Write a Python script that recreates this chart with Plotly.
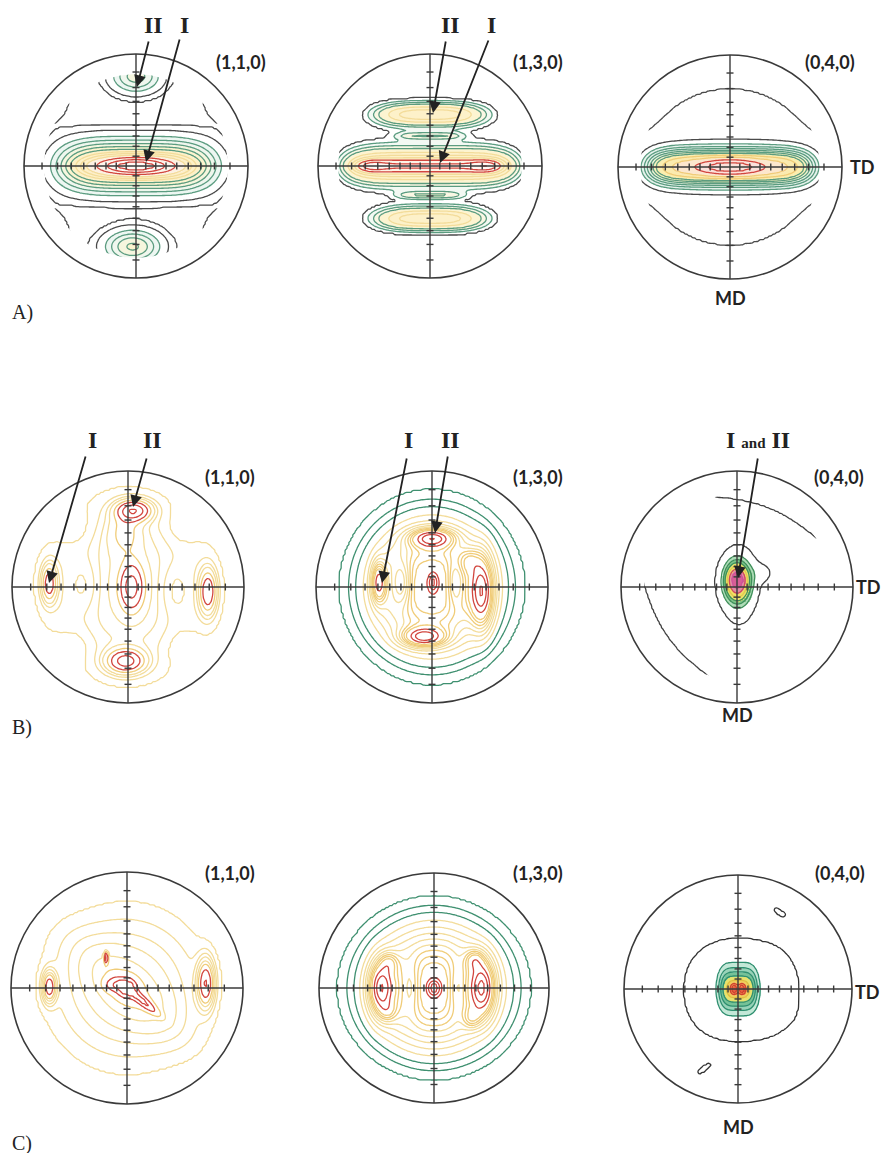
import numpy as np
import plotly.graph_objects as go

W, H = 881, 1153

# ---------------- panel geometry ----------------
PANELS = ["A1", "A2", "A3", "B1", "B2", "B3", "C1", "C2", "C3"]
CX = [136, 430, 730, 128, 432, 737, 127, 434, 738]
CY = [166, 166, 167, 587, 587, 587, 988, 988, 989]
RAD = [112, 112, 112, 116, 116, 116, 116, 115, 114]
MASK_R = [0.82, 0.82, 0.80, 0.88, 0.86, 0.80, 0.88, 0.86, 0.88]

HKL = ["(1,1,0)", "(1,3,0)", "(0,4,0)"] * 3
HKL_X = [241, 538, 830, 230, 538, 839, 230, 538, 840]
HKL_Y = [62, 62, 62, 477, 477, 477, 873, 873, 873]

ROW_LABELS = ["A)", "B)", "C)"]
ROW_LABEL_X = [22, 22, 22]
ROW_LABEL_Y = [312, 727, 1143]

TD_X = [862, 868, 867]
TD_Y = [167, 587, 992]
MD_X = [730, 737, 738]
MD_Y = [298, 715, 1127]

TICK_DEG = [10, 20, 30, 40, 50, 60, 70, 80]

POINT_TEXT = ["II", "I", "II", "I", "I", "II", "I", "II",
              "I <span style='font-size:15px'>and</span> II"]
POINT_X = [153, 184, 450, 491, 92, 152, 408, 450, 758]
POINT_Y = [25, 25, 25, 25, 440, 440, 440, 440, 440]
TAIL_X = [149, 180, 446, 489, 86, 147, 407, 448, 758]
TAIL_Y = [40, 38, 40, 39, 455, 457, 457, 455, 457]
HEAD_X = [137, 146, 433, 440, 49, 133, 382, 435, 738]
HEAD_Y = [87, 162, 113, 163, 583, 507, 583, 533, 578]

# ---------------- intensity peaks: (u0, v0, sx, sy, angle, amp, power) ----------------
PEAKS_A1 = [(0.00, 0.00, 0.61, 0.17, 0, 1.00, 4),
            (0.00, 0.00, 0.22, 0.05, 0, 1.60, 2),
            (0.00, 0.80, 0.18, 0.12, 0, 0.55, 2),
            (-0.03, -0.72, 0.20, 0.12, 0, 0.62, 2),
            (-0.82, 0.62, 0.16, 0.16, 0, 0.25, 2),
            (0.82, 0.62, 0.16, 0.16, 0, 0.25, 2),
            (-0.82, -0.62, 0.16, 0.16, 0, 0.25, 2),
            (0.82, -0.62, 0.16, 0.16, 0, 0.25, 2)]
PEAKS_A2 = [(0.00, 0.00, 0.70, 0.11, 0, 0.80, 6),
            (0.00, 0.00, 0.58, 0.045, 0, 0.45, 8),
            (-0.55, 0.00, 0.10, 0.035, 0, 0.35, 2),
            (0.52, 0.00, 0.10, 0.035, 0, 0.35, 2),
            (0.00, 0.46, 0.38, 0.07, 0, 0.75, 3),
            (0.00, -0.47, 0.38, 0.07, 0, 0.75, 3),
            (0.00, 0.27, 0.26, 0.025, 0, 0.25, 4),
            (0.00, -0.26, 0.26, 0.025, 0, 0.25, 4),
            (0.00, 0.00, 0.66, 0.66, 0, 0.10, 4)]
PEAKS_A3 = [(0.00, 0.00, 0.66, 0.11, 0, 1.00, 6),
            (0.00, 0.00, 0.20, 0.05, 0, 0.90, 2),
            (0.00, 0.00, 0.85, 0.77, 0, 0.15, 2)]
PEAKS_B1 = [(0.00, 0.00, 0.55, 0.60, 0, 0.32, 2),
            (0.05, 0.66, 0.10, 0.06, 0, 0.75, 2),
            (-0.03, 0.48, 0.10, 0.13, 0, 0.25, 2),
            (0.03, 0.00, 0.07, 0.14, 0, 0.55, 2),
            (-0.02, -0.64, 0.11, 0.07, 0, 0.70, 2),
            (-0.68, 0.03, 0.045, 0.11, 0, 0.55, 2),
            (0.69, -0.04, 0.05, 0.13, 0, 0.60, 2),
            (-0.38, 0.02, 0.10, 0.18, 0, -0.14, 2),
            (0.40, -0.03, 0.10, 0.18, 0, -0.14, 2),
            (0.45, 0.50, 0.12, 0.12, 0, -0.08, 2),
            (-0.45, 0.50, 0.12, 0.12, 0, -0.08, 2),
            (0.45, -0.50, 0.12, 0.12, 0, -0.08, 2),
            (-0.45, -0.50, 0.12, 0.12, 0, -0.08, 2)]
PEAKS_B2 = [(0.00, 0.00, 0.38, 0.40, 0, 0.90, 2),
            (0.00, 0.42, 0.12, 0.055, 0, 0.75, 2),
            (-0.07, -0.43, 0.12, 0.055, 0, 0.75, 2),
            (-0.46, 0.04, 0.04, 0.11, 0, 0.65, 2),
            (0.43, -0.04, 0.065, 0.20, 0, 0.80, 2),
            (0.32, 0.22, 0.06, 0.07, 0, 0.25, 2),
            (0.01, 0.04, 0.025, 0.05, 0, 0.45, 2),
            (-0.26, 0.03, 0.06, 0.14, 0, -0.35, 2),
            (0.20, 0.03, 0.05, 0.14, 0, -0.30, 2)]
PEAKS_B3 = [(0.00, 0.05, 0.075, 0.115, 0, 1.30, 2),
            (0.00, 0.08, 0.035, 0.04, 0, 0.35, 2),
            (0.02, -0.01, 0.10, 0.23, 0, 0.18, 2),
            (0.21, 0.12, 0.07, 0.06, 0, 0.12, 2)]
PEAKS_C1 = [(0.00, 0.00, 0.50, 0.50, 0, 0.30, 2),
            (0.02, -0.02, 0.45, 0.16, -40, 0.12, 2),
            (-0.67, 0.01, 0.04, 0.09, 0, 0.50, 2),
            (0.68, 0.04, 0.05, 0.14, 0, 0.55, 2),
            (0.00, 0.00, 0.05, 0.05, 0, 0.45, 2),
            (0.12, -0.10, 0.12, 0.025, -40, 0.35, 2),
            (-0.10, 0.03, 0.06, 0.04, 0, 0.25, 2),
            (-0.18, 0.26, 0.01, 0.03, 0, 0.50, 2)]
PEAKS_C2 = [(0.00, 0.00, 0.40, 0.38, 0, 0.90, 2),
            (-0.46, 0.00, 0.07, 0.15, 0, 0.80, 2),
            (0.42, 0.00, 0.07, 0.16, 0, 0.80, 2),
            (-0.39, 0.22, 0.05, 0.06, 0, 0.25, 2),
            (-0.40, -0.20, 0.05, 0.06, 0, 0.20, 2),
            (0.35, 0.24, 0.05, 0.06, 0, 0.30, 2),
            (0.33, -0.26, 0.05, 0.06, 0, 0.25, 2),
            (0.00, 0.00, 0.035, 0.045, 0, 0.55, 2),
            (-0.20, 0.00, 0.06, 0.16, 0, -0.25, 2),
            (0.20, 0.00, 0.06, 0.16, 0, -0.25, 2)]
PEAKS_C3 = [(-0.035, 0.00, 0.02, 0.03, 0, 0.70, 2),
            (0.035, 0.00, 0.02, 0.03, 0, 0.70, 2),
            (0.00, 0.00, 0.14, 0.13, 0, 0.60, 4),
            (0.03, -0.01, 0.45, 0.37, 0, 0.10, 3),
            (0.40, -0.18, 0.05, 0.06, 0, 0.05, 2),
            (0.37, 0.67, 0.012, 0.035, 55, 0.12, 2),
            (-0.30, -0.70, 0.012, 0.04, -55, 0.12, 2)]

# arcs in polar form: (r0, sr, theta0_deg, stheta_deg, amp)
ARCS_B3 = [(0.90, 0.10, 68, 27, 0.30), (0.90, 0.10, 215, 27.5, 0.30)]

# ---------------- contour levels and colours ----------------
GRAY, GREEN, TEAL = "#4a4a4a", "#5b9c80", "#3f9070"
YEL, YEL_L, ORG, RED = "#f0cc78", "#f3dc9a", "#eeb070", "#d2463e"
NONE = "rgba(255,255,255,0)"

LEVELS_A1 = [0.10, 0.17, 0.30, 0.40, 0.50, 0.60, 0.70, 0.82, 0.93, 1.08, 1.40, 1.80, 2.20]
COLORS_A1 = [GRAY, GRAY, GREEN, GREEN, GREEN, GREEN, GREEN, YEL_L, YEL_L, YEL_L, RED, RED, RED]
FILL_A1 = [NONE, NONE, NONE, "rgba(220,240,230,0.5)", "rgba(225,240,222,0.5)",
           "rgba(240,240,200,0.6)", "rgba(250,236,175,0.6)", "rgba(252,234,170,0.65)",
           "rgba(252,234,170,0.65)", "rgba(252,230,170,0.65)", "rgba(252,228,195,0.5)",
           "rgba(252,235,215,0.5)", "rgba(255,245,235,0.5)", "rgba(255,245,235,0.5)"]

LEVELS_A2 = [0.16, 0.22, 0.30, 0.38, 0.55, 0.70, 0.85, 1.05, 1.30, 1.55]
COLORS_A2 = [GRAY, GREEN, GREEN, GREEN, YEL_L, YEL_L, YEL_L, RED, RED, RED]
FILL_A2 = [NONE, NONE, "rgba(228,242,228,0.45)", "rgba(245,240,205,0.55)",
           "rgba(252,236,178,0.6)", "rgba(252,234,172,0.65)", "rgba(252,234,172,0.65)",
           "rgba(252,232,176,0.65)", "rgba(252,232,205,0.5)", "rgba(255,242,232,0.5)",
           "rgba(255,242,232,0.5)"]

LEVELS_A3 = [0.10, 0.22, 0.32, 0.40, 0.48, 0.56, 0.64, 0.72, 0.88, 1.05, 1.40, 1.70]
COLORS_A3 = [GRAY, GRAY, GREEN, GREEN, GREEN, GREEN, GREEN, GREEN, YEL, YEL, RED, RED]
FILL_A3 = [NONE, NONE, NONE, "rgba(210,234,220,0.55)", "rgba(210,234,220,0.55)",
           "rgba(218,236,210,0.55)", "rgba(236,240,195,0.65)", "rgba(248,238,165,0.75)",
           "rgba(250,234,155,0.8)", "rgba(250,230,155,0.8)", "rgba(250,218,180,0.65)",
           "rgba(250,205,195,0.6)", "rgba(250,205,195,0.6)"]

LEVELS_B1 = [0.12, 0.18, 0.24, 0.30, 0.42, 0.55, 0.75, 0.95]
COLORS_B1 = [YEL_L, YEL_L, YEL_L, YEL_L, YEL, RED, RED, RED]

LEVELS_B2 = [0.10, 0.15, 0.20, 0.27, 0.34, 0.41, 0.48, 0.55, 0.62, 0.69, 0.76, 0.95, 1.10, 1.25]
COLORS_B2 = [TEAL, TEAL, TEAL, YEL_L, YEL_L, YEL_L, YEL_L, YEL_L, YEL, YEL, YEL, RED, RED, RED]

LEVELS_B3 = [0.08, 0.30, 0.45, 0.60, 0.80, 1.05, 1.30]
COLORS_B3 = ["#404040", "#3f8f5a", "#3f8f5a", "#3f8f5a", "#e0c850", "#d04a5a", "#d0509a"]
FILL_B3 = [NONE, NONE, "rgba(160,215,170,0.85)", "rgba(115,192,130,0.95)",
           "rgba(236,228,110,1)", "rgba(242,226,100,1)", "rgba(225,140,165,1)", "rgba(215,95,150,1)"]

LEVELS_C1 = [0.10, 0.15, 0.20, 0.25, 0.32, 0.38, 0.50, 0.65]
COLORS_C1 = [YEL_L, YEL_L, YEL_L, YEL_L, YEL_L, YEL, RED, RED]

LEVELS_C2 = [0.10, 0.15, 0.20, 0.27, 0.34, 0.41, 0.48, 0.55, 0.62, 0.69, 0.76, 0.95, 1.10, 1.25]
COLORS_C2 = [TEAL, TEAL, TEAL, YEL_L, YEL_L, YEL_L, YEL_L, YEL_L, YEL, YEL, YEL, RED, RED, RED]

LEVELS_C3 = [0.05, 0.20, 0.30, 0.40, 0.50, 0.62, 0.85, 1.05]
COLORS_C3 = ["#333333", "#2f8f70", "#2f8f70", "#2f8f70", "#2f8f70", "#e0c040", "#d04030", "#d04030"]
FILL_C3 = [NONE, NONE, "rgba(180,226,205,0.8)", "rgba(140,205,175,0.9)", "rgba(110,190,145,0.95)",
           "rgba(232,226,110,1)", "rgba(242,205,95,1)", "rgba(240,150,80,1)", "rgba(232,96,64,1)"]

PANEL_PEAKS = [PEAKS_A1, PEAKS_A2, PEAKS_A3, PEAKS_B1, PEAKS_B2, PEAKS_B3, PEAKS_C1, PEAKS_C2, PEAKS_C3]
PANEL_ARCS = [[], [], [], [], [], ARCS_B3, [], [], []]
PANEL_LEVELS = [LEVELS_A1, LEVELS_A2, LEVELS_A3, LEVELS_B1, LEVELS_B2, LEVELS_B3, LEVELS_C1, LEVELS_C2, LEVELS_C3]
PANEL_COLORS = [COLORS_A1, COLORS_A2, COLORS_A3, COLORS_B1, COLORS_B2, COLORS_B3, COLORS_C1, COLORS_C2, COLORS_C3]
PANEL_FILLS = [FILL_A1, FILL_A2, FILL_A3, None, None, FILL_B3, None, None, FILL_C3]


def field(peaks, arcs, U, V):
    Z = np.zeros_like(U)
    for (u0, v0, sx, sy, ang, amp, p) in peaks:
        a = np.radians(ang)
        du, dv = U - u0, V - v0
        xr = du * np.cos(a) + dv * np.sin(a)
        yr = -du * np.sin(a) + dv * np.cos(a)
        Z += amp * np.exp(-0.5 * np.abs(xr / sx) ** p - 0.5 * (yr / sy) ** 2)
    if arcs:
        Rr = np.hypot(U, V)
        TH = np.degrees(np.arctan2(V, U))
        for (r0, sr, th0, sth, amp) in arcs:
            dth = (TH - th0 + 180) % 360 - 180
            Z += amp * np.exp(-0.5 * ((Rr - r0) / sr) ** 2 - 0.5 * (dth / sth) ** 2)
    return Z


def stepped(colors):
    n = len(colors)
    cs = []
    for k, c in enumerate(colors):
        cs.append([k / n, c])
        cs.append([(k + 1) / n, c])
    return cs


fig = go.Figure()
NG = 121
u = np.linspace(-1, 1, NG)
v = np.linspace(1, -1, NG)
U, V = np.meshgrid(u, v)

shapes = []
annotations = []

# 1) intensity fills and contour lines
for i in range(9):
    cx, cy, r = CX[i], CY[i], RAD[i]
    Z = field(PANEL_PEAKS[i], PANEL_ARCS[i], U, V)
    L = np.asarray(PANEL_LEVELS[i], float)
    N = len(L)
    xp = np.concatenate([[min(Z.min(), L[0]) - 1.0], L, [max(Z.max(), L[-1]) + 1.0]])
    fp = np.arange(N + 2, dtype=float)
    Zi = np.round(np.interp(Z, xp, fp), 4)
    xs = cx + r * u
    ys = cy - r * v
    if PANEL_FILLS[i] is not None:
        fig.add_trace(go.Heatmap(x=xs, y=ys, z=Zi, zmin=0, zmax=N + 1,
                                 colorscale=stepped(PANEL_FILLS[i]), zsmooth="best",
                                 showscale=False, hoverinfo="skip"))
    fig.add_trace(go.Contour(x=xs, y=ys, z=Zi, zmin=0.5, zmax=N + 0.5, autocontour=False,
                             contours=dict(start=1, end=N, size=1, coloring="lines"),
                             colorscale=stepped(PANEL_COLORS[i]), showscale=False,
                             line=dict(width=1.3, smoothing=1), hoverinfo="skip"))

# 2) white annulus outside the measured range (hides data beyond the mask radius)
th = np.linspace(0, 2 * np.pi, 181)
for i in range(9):
    cx, cy, r = CX[i], CY[i], RAD[i]
    ro, ri = r * 1.43, r * MASK_R[i]
    px = np.concatenate([cx + ro * np.cos(th), cx + ri * np.cos(th[::-1])])
    py = np.concatenate([cy + ro * np.sin(th), cy + ri * np.sin(th[::-1])])
    fig.add_trace(go.Scatter(x=px, y=py, mode="lines", fill="toself", fillcolor="white",
                             line=dict(width=0, color="white"), hoverinfo="skip", showlegend=False))

# 3) frame, cross, ticks, labels
t = np.tan(np.radians(np.asarray(TICK_DEG, float)) / 2.0)
for i in range(9):
    cx, cy, r = CX[i], CY[i], RAD[i]
    shapes.append(dict(type="circle", xref="x", yref="y", x0=cx - r, x1=cx + r, y0=cy - r, y1=cy + r,
                       line=dict(color="#3a3a3a", width=1.6)))
    shapes.append(dict(type="line", xref="x", yref="y", x0=cx - r, x1=cx + r, y0=cy, y1=cy,
                       line=dict(color="#3a3a3a", width=1.4)))
    shapes.append(dict(type="line", xref="x", yref="y", x0=cx, x1=cx, y0=cy - r, y1=cy + r,
                       line=dict(color="#3a3a3a", width=1.4)))
    tx = np.concatenate([cx - r * t, cx + r * t])
    fig.add_trace(go.Scatter(x=tx, y=np.full(tx.size, cy), mode="markers",
                             marker=dict(symbol="line-ns", size=5, line=dict(width=1.4, color="#3a3a3a")),
                             hoverinfo="skip", showlegend=False))
    ty = np.concatenate([cy - r * t, cy + r * t])
    fig.add_trace(go.Scatter(x=np.full(ty.size, cx), y=ty, mode="markers",
                             marker=dict(symbol="line-ew", size=5, line=dict(width=1.4, color="#3a3a3a")),
                             hoverinfo="skip", showlegend=False))
    annotations.append(dict(x=HKL_X[i], y=HKL_Y[i], xref="x", yref="y", text="<b>" + HKL[i] + "</b>",
                            showarrow=False, font=dict(family="Lato", size=18, color="#222")))

for k in range(3):
    annotations.append(dict(x=ROW_LABEL_X[k], y=ROW_LABEL_Y[k], xref="x", yref="y", text=ROW_LABELS[k],
                            showarrow=False, font=dict(family="Liberation Serif", size=20, color="#222")))
    annotations.append(dict(x=TD_X[k], y=TD_Y[k], xref="x", yref="y", text="<b>TD</b>",
                            showarrow=False, font=dict(family="Lato", size=18, color="#222")))
    annotations.append(dict(x=MD_X[k], y=MD_Y[k], xref="x", yref="y", text="<b>MD</b>",
                            showarrow=False, font=dict(family="Lato", size=18, color="#222")))

for j in range(len(POINT_TEXT)):
    annotations.append(dict(x=POINT_X[j], y=POINT_Y[j], xref="x", yref="y", text="<b>" + POINT_TEXT[j] + "</b>",
                            showarrow=False, font=dict(family="Liberation Serif", size=24, color="#222")))
    annotations.append(dict(x=HEAD_X[j], y=HEAD_Y[j], ax=TAIL_X[j], ay=TAIL_Y[j], xref="x", yref="y",
                            axref="x", ayref="y", text="", showarrow=True, arrowhead=2, arrowsize=1.3,
                            arrowwidth=1.8, arrowcolor="#222", standoff=0))

fig.update_layout(width=W, height=H, margin=dict(l=0, r=0, t=0, b=0),
                  paper_bgcolor="white", plot_bgcolor="white", showlegend=False,
                  xaxis=dict(range=[0, W], visible=False, fixedrange=True),
                  yaxis=dict(range=[H, 0], visible=False, fixedrange=True),
                  shapes=shapes, annotations=annotations)
fig.write_html("out.html")
